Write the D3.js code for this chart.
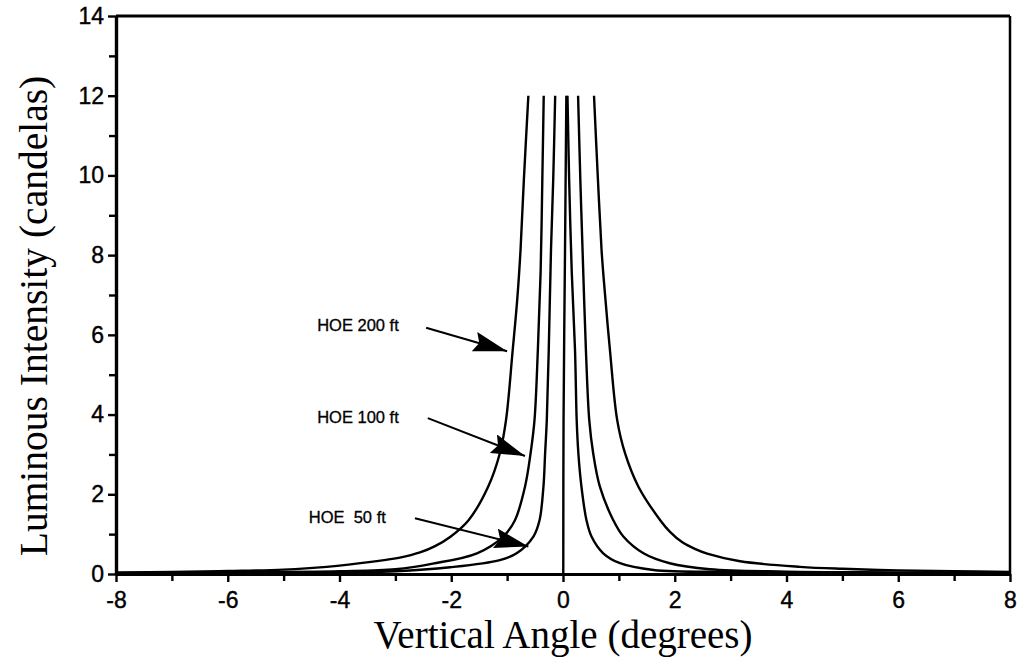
<!DOCTYPE html>
<html>
<head>
<meta charset="utf-8">
<script src="https://cdn.jsdelivr.net/npm/d3@7"></script>
<style>
  html, body { margin: 0; padding: 0; background: #fff; }
  svg { display: block; }
</style>
</head>
<body>
<svg id="chart" width="1022" height="667"></svg>
<script>
// ---- data (angle in degrees, intensity in candelas) ----
const xTicks = [-8, -6, -4, -2, 0, 2, 4, 6, 8];
const xMinorTicks = [-7, -5, -3, -1, 1, 3, 5, 7];
const yTicks = [0, 2, 4, 6, 8, 10, 12, 14];
const yMinorTicks = [1, 3, 5, 7, 9, 11, 13];

const hoe200Left = [[-8,0.04],[-7,0.05],[-6,0.075],[-5,0.11],[-4.23,0.18],[-3.4,0.31],[-2.92,0.41],[-2.56,0.54],[-2.29,0.7],[-2.02,0.93],[-1.69,1.35],[-1.34,2.19],[-1.13,3.03],[-1.02,3.86],[-0.9,5.62],[-0.82,6.87],[-0.76,8.13],[-0.7,9.9],[-0.62,12]];
const hoe100Left = [[-8,0.02],[-6,0.04],[-4,0.07],[-3,0.12],[-2.33,0.26],[-1.54,0.52],[-1.07,0.94],[-0.86,1.35],[-0.68,2.19],[-0.58,3.03],[-0.51,3.86],[-0.45,5.62],[-0.4,7.6],[-0.37,9.9],[-0.345,12]];
const hoe50Left = [[-8,0.01],[-5,0.03],[-3,0.07],[-2.02,0.17],[-1.13,0.35],[-0.83,0.52],[-0.53,0.94],[-0.42,1.35],[-0.35,2.19],[-0.32,3.03],[-0.29,3.86],[-0.255,5.62],[-0.215,8.13],[-0.175,9.9],[-0.14,12]];
const centerLine = [[0.005,0],[0.01,3.9],[0.036,8.1],[0.06,12]];
const hoe50Right = [[0.08,12],[0.11,9.9],[0.156,7.6],[0.215,5.62],[0.245,3.86],[0.275,3.03],[0.33,2.19],[0.42,1.35],[0.51,0.94],[0.72,0.52],[1.02,0.27],[1.62,0.1],[3,0.05],[5,0.03],[8,0.01]];
const hoe100Right = [[0.27,12],[0.31,9.9],[0.35,8.13],[0.41,5.62],[0.47,3.86],[0.54,3.03],[0.66,2.19],[0.9,1.35],[1.08,0.94],[1.44,0.52],[1.91,0.27],[2.63,0.12],[4,0.06],[6,0.04],[8,0.02]];
const hoe200Right = [[0.555,12],[0.625,9.9],[0.69,8.13],[0.73,7.38],[0.84,5.62],[0.97,3.86],[1.11,3.03],[1.35,2.19],[1.74,1.35],[1.92,1.05],[2.13,0.8],[2.36,0.63],[2.58,0.51],[3.17,0.32],[4.24,0.18],[5,0.13],[6,0.09],[7,0.07],[8,0.05]];

// annotations: label, label anchor point (data), arrow start (data), arrow tip (data)
const annoLabels = ["HOE 200 ft", "HOE 100 ft", "HOE  50 ft"];
const annoText = [[-4.4, 6.1], [-4.4, 3.8], [-4.55, 1.28]];
const annoFrom = [[-2.45, 6.18], [-2.42, 3.91], [-2.65, 1.4]];
const annoTo = [[-1.0, 5.59], [-0.68, 2.96], [-0.62, 0.69]];

// ---- layout ----
const svg = d3.select("#chart");
const x = d3.scaleLinear().domain([-8, 8]).range([116, 1010]);
const y = d3.scaleLinear().domain([0, 14]).range([574, 16]);

const g = svg.append("g");

// frame (top & right)
g.append("line").attr("x1", x(-8)).attr("x2", x(8)).attr("y1", y(14)).attr("y2", y(14))
  .attr("stroke", "#000").attr("stroke-width", 3);
g.append("line").attr("x1", x(8)).attr("x2", x(8)).attr("y1", y(14)).attr("y2", y(0))
  .attr("stroke", "#000").attr("stroke-width", 2.5);

// curves
const line = d3.line().x(d => x(d[0])).y(d => y(d[1])).curve(d3.curveCatmullRom.alpha(0.5));
[hoe200Left, hoe100Left, hoe50Left, centerLine, hoe50Right, hoe100Right, hoe200Right].forEach(s => {
  g.append("path").datum(s).attr("d", line)
    .attr("fill", "none").attr("stroke", "#000").attr("stroke-width", 2.4)
    .attr("stroke-linejoin", "round");
});

// axes
const fontTick = "'Liberation Sans', Arial, Helvetica, sans-serif";
const xAxis = g.append("g").attr("transform", `translate(0,${y(0)})`)
  .call(d3.axisBottom(x).tickValues(xTicks).tickSize(8).tickPadding(10).tickSizeOuter(0).tickFormat(d3.format("d")));
const xMinor = g.append("g").attr("transform", `translate(0,${y(0)})`)
  .call(d3.axisBottom(x).tickValues(xMinorTicks).tickSize(7).tickSizeOuter(0).tickFormat(""));
const yAxis = g.append("g").attr("transform", `translate(${x(-8)},0)`)
  .call(d3.axisLeft(y).tickValues(yTicks).tickSize(8).tickPadding(4).tickSizeOuter(0).tickFormat(d3.format("d")));
const yMinor = g.append("g").attr("transform", `translate(${x(-8)},0)`)
  .call(d3.axisLeft(y).tickValues(yMinorTicks).tickSize(7).tickSizeOuter(0).tickFormat(""));

[xAxis, xMinor, yAxis, yMinor].forEach(a => {
  a.selectAll(".domain").attr("stroke", "#000").attr("stroke-width", 3.2);
  a.selectAll(".tick line").attr("stroke", "#000").attr("stroke-width", 2.4);
  a.selectAll("text").attr("fill", "#000").style("font-family", fontTick).style("font-size", "23px")
    .attr("stroke", "#000").attr("stroke-width", 0.4);
});
xAxis.selectAll("text").text(d => String(d));

// axis titles
const serif = "'Liberation Serif', 'Times New Roman', serif";
g.append("text").attr("x", x(0)).attr("y", 648)
  .attr("text-anchor", "middle")
  .style("font-family", serif).style("font-size", "39px")
  .text("Vertical Angle (degrees)");
g.append("text").attr("transform", `translate(47,${y(7) + 21}) rotate(-90)`)
  .attr("text-anchor", "middle")
  .style("font-family", serif).style("font-size", "39.5px")
  .text("Luminous Intensity (candelas)");

// annotations
svg.append("defs").append("marker").attr("id", "arrow")
  .attr("viewBox", "0 0 34 20").attr("refX", 34).attr("refY", 10)
  .attr("markerWidth", 34).attr("markerHeight", 20).attr("markerUnits", "userSpaceOnUse")
  .attr("orient", "auto")
  .append("path").attr("d", "M0,0 L34,10 L0,20 L5,10 Z").attr("fill", "#000");

annoLabels.forEach((lab, i) => {
  g.append("text").attr("x", x(annoText[i][0])).attr("y", y(annoText[i][1]))
    .style("font-family", fontTick).style("font-size", "16.5px")
    .attr("stroke", "#000").attr("stroke-width", 0.3)
    .style("white-space", "pre").attr("xml:space", "preserve")
    .text(lab);
  g.append("line")
    .attr("x1", x(annoFrom[i][0])).attr("y1", y(annoFrom[i][1]))
    .attr("x2", x(annoTo[i][0])).attr("y2", y(annoTo[i][1]))
    .attr("stroke", "#000").attr("stroke-width", 2)
    .attr("marker-end", "url(#arrow)");
});
</script>
</body>
</html>
